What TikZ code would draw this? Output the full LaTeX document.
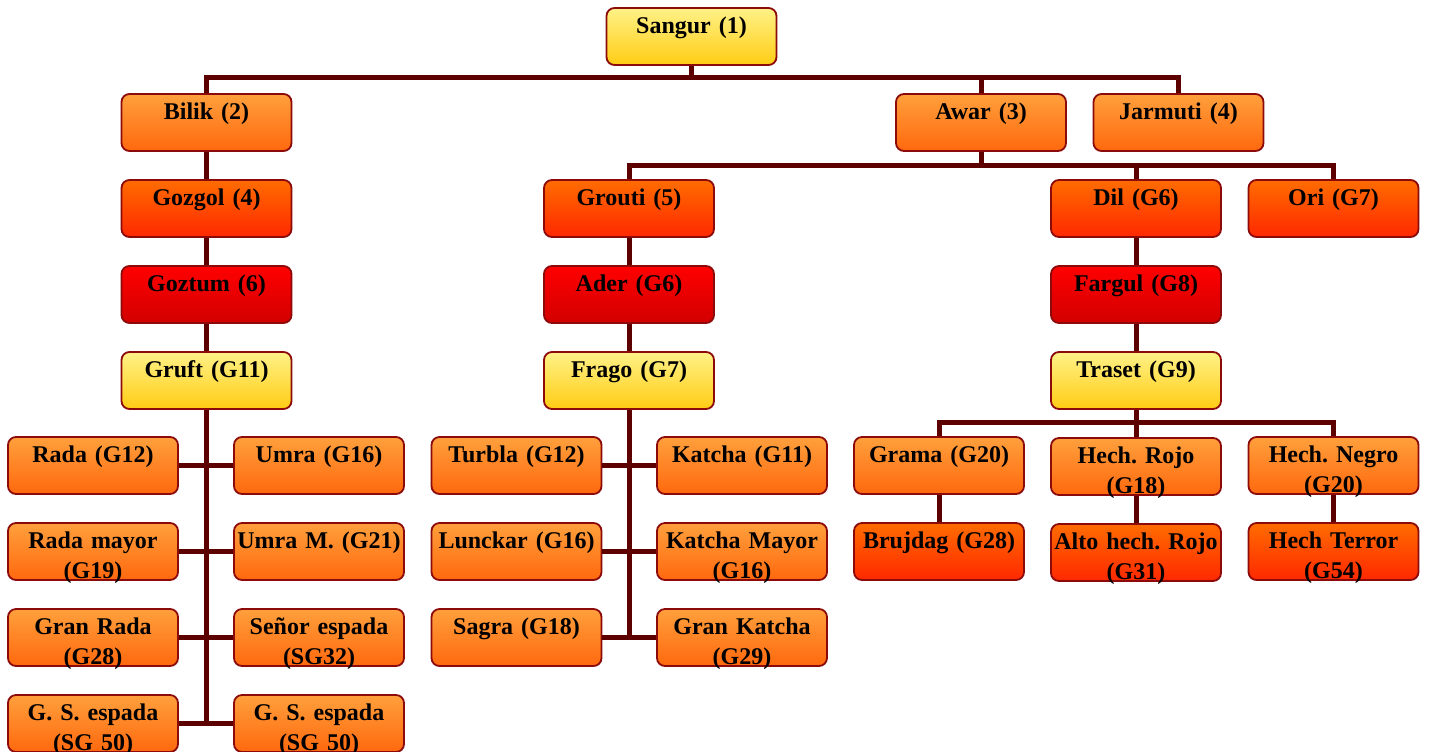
\documentclass[tikz,border=0pt]{standalone}
\usepackage{fontspec}
\setmainfont{Liberation Serif}
\usepackage{tikz}
\usetikzlibrary{positioning}
\usepackage{xcolor}

\definecolor{linkred}{RGB}{92,0,0}
\definecolor{edgered}{RGB}{140,10,10}

\begin{document}
\frenchspacing
\begin{tikzpicture}[x=0.5pt, y=-0.5pt,
		node distance=13.6pt,
		famnode/.style={rectangle, rounded corners=4pt, draw=edgered, line width=0.9pt,
			minimum width=85pt, text width=85pt, align=center, inner sep=0pt,
			text height=12.5pt, text depth=16pt,
			font=\fontsize{12}{15}\selectfont\bfseries},
		yellownode/.style={famnode, top color={rgb,255:red,255;green,242;blue,135}, bottom color={rgb,255:red,255;green,204;blue,20}},
		lightnode/.style={famnode, top color={rgb,255:red,255;green,160;blue,60}, bottom color={rgb,255:red,255;green,104;blue,14}},
		deepnode/.style={famnode, top color={rgb,255:red,255;green,108;blue,0}, bottom color={rgb,255:red,255;green,40;blue,0}},
		rednode/.style={famnode, top color={rgb,255:red,255;green,0;blue,0}, bottom color={rgb,255:red,210;green,0;blue,0}},
		conn/.style={draw=linkred, line width=2.5pt},
		]
		\useasboundingbox (0,0) rectangle (1429,751);

		%Nodes
		\node[yellownode] (sangur)  at (691.5,36.5)  {Sangur (1)};
		\node[lightnode]  (bilik)   at (206.5,122.5) {Bilik (2)};
		\node[lightnode]  (awar)    at (981,122.5)   {Awar (3)};
		\node[lightnode]  (jarmuti) at (1178.5,122.5) {Jarmuti (4)};

		\node[deepnode]   (gozgol) [below=of bilik]  {Gozgol (4)};
		\node[rednode]    (goztum) [below=of gozgol] {Goztum (6)};
		\node[yellownode] (gruft)  [below=of goztum] {Gruft (G11)};

		\node[deepnode]   (grouti) at (629,208.5)    {Grouti (5)};
		\node[rednode]    (ader)   [below=of grouti] {Ader (G6)};
		\node[yellownode] (frago)  [below=of ader]   {Frago (G7)};

		\node[deepnode]   (dil)    at (1136,208.5)   {Dil (G6)};
		\node[deepnode]   (ori)    at (1333.5,208.5) {Ori (G7)};
		\node[rednode]    (fargul) [below=of dil]    {Fargul (G8)};
		\node[yellownode] (traset) [below=of fargul] {Traset (G9)};

		% Gruft branch
		\node[lightnode] (rada)    at (93,465.5)      {Rada (G12)};
		\node[lightnode] (radam)   [below=of rada]    {Rada mayor\\(G19)};
		\node[lightnode] (granrada) [below=of radam]  {Gran Rada\\(G28)};
		\node[lightnode] (gsesl)   [below=of granrada] {G. S. espada\\(SG 50)};
		\node[lightnode] (umra)    at (319,465.5)     {Umra (G16)};
		\node[lightnode] (umram)   [below=of umra]    {Umra M. (G21)};
		\node[lightnode] (senor)   [below=of umram]   {Señor espada\\(SG32)};
		\node[lightnode] (gsesr)   [below=of senor]   {G. S. espada\\(SG 50)};

		% Frago branch
		\node[lightnode] (turbla)  at (516.5,465.5)   {Turbla (G12)};
		\node[lightnode] (lunckar) [below=of turbla]  {Lunckar (G16)};
		\node[lightnode] (sagra)   [below=of lunckar] {Sagra (G18)};
		\node[lightnode] (katcha)  at (742,465.5)     {Katcha (G11)};
		\node[lightnode] (katcham) [below=of katcha]  {Katcha Mayor\\(G16)};
		\node[lightnode] (grankat) [below=of katcham] {Gran Katcha\\(G29)};

		% Traset branch
		\node[lightnode] (grama)   at (939,465.5)     {Grama (G20)};
		\node[lightnode] (hrojo)   [below=of traset]  {Hech. Rojo\\(G18)};
		\node[lightnode] (hnegro)  at (1333.5,465.5)  {Hech. Negro\\(G20)};
		\node[deepnode]  (brujdag) [below=of grama]   {Brujdag (G28)};
		\node[deepnode]  (altorojo) [below=of hrojo]  {Alto hech. Rojo\\(G31)};
		\node[deepnode]  (terror)  [below=of hnegro]  {Hech Terror\\(G54)};

		\coordinate (bus1) at (691.5,77);
		\coordinate (bus2) at (981,165.5);
		\coordinate (bus3) at (1136,422);

		%Lines
		\draw[conn] (sangur) -- (bus1);
		\draw[conn] (bilik.north) |- (bus1) -| (jarmuti.north);
		\draw[conn] (bus1 -| awar) -- (awar.north);

		\draw[conn] (awar) -- (bus2);
		\draw[conn] (grouti.north) |- (bus2) -| (ori.north);
		\draw[conn] (bus2 -| dil) -- (dil.north);

		\draw[conn] (bilik) -- (gozgol) -- (goztum) -- (gruft);
		\draw[conn] (grouti) -- (ader) -- (frago);
		\draw[conn] (dil) -- (fargul) -- (traset);

		\draw[conn] (gruft) -- (gruft |- gsesl);
		\draw[conn] (rada) -- (umra);
		\draw[conn] (radam) -- (umram);
		\draw[conn] (granrada) -- (senor);
		\draw[conn] (gsesl) -- (gsesr);

		\draw[conn] (frago) -- (frago |- sagra);
		\draw[conn] (turbla) -- (katcha);
		\draw[conn] (lunckar) -- (katcham);
		\draw[conn] (sagra) -- (grankat);

		\draw[conn] (traset) -- (hrojo);
		\draw[conn] (grama.north) |- (bus3) -| (hnegro.north);
		\draw[conn] (grama) -- (brujdag);
		\draw[conn] (hrojo) -- (altorojo);
		\draw[conn] (hnegro) -- (terror);

	\end{tikzpicture}
\end{document}
